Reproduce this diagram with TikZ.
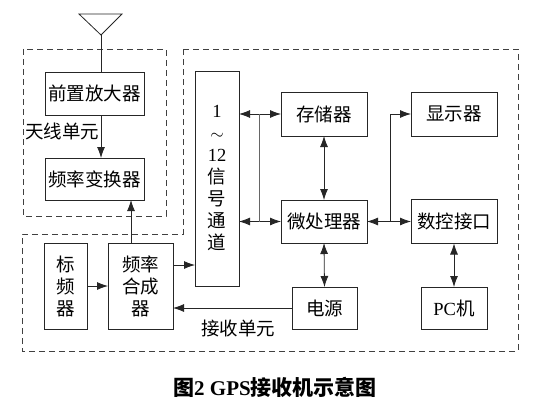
\documentclass[tikz,border=0pt]{standalone}
\usepackage{fontspec}
\setmainfont{Liberation Serif}
\newfontfamily\cjk{Noto Sans CJK SC}
\usetikzlibrary{arrows.meta}
\begin{document}
\begin{tikzpicture}[x=1pt,y=-1pt,
  every node/.style={inner sep=0pt,outer sep=0pt},
  blk/.style={draw=black!85,line width=0.8pt,font=\fontsize{18.5}{22}\selectfont\cjk,align=center},
  arr/.style={line width=0.8pt,draw=black!85,-{Latex[length=11pt,width=8pt]}},
  darr/.style={line width=0.8pt,draw=black!85,{Latex[length=11pt,width=8pt]}-{Latex[length=11pt,width=8pt]}},
  ln/.style={line width=0.8pt,draw=black!85},
  unit/.style={draw=black!75,line width=0.7pt,dash pattern=on 6pt off 4pt},
  lbl/.style={font=\fontsize{18.5}{22}\selectfont\cjk}]
\useasboundingbox (0,0) rectangle (556,401);
% units
\draw[unit] (23,49) rectangle (166,216);
\draw[unit] (183,49) -- (518,49) -- (518,351) -- (22,351) -- (22,234) -- (183,234) -- cycle;
% antenna
\coordinate (ant) at (101,35);
\draw[ln] (79,14) -- (122,14) -- (ant) -- cycle;
% blocks
\node[blk,minimum width=99pt,minimum height=43pt] (pre) at (94.5,93.5) {前置放大器};
\node[blk,minimum width=99pt,minimum height=42pt] (conv) at (94.5,179) {频率变换器};
\node[blk,minimum width=43pt,minimum height=86pt] (std) at (65.5,286) {标\\频\\器};
\node[blk,minimum width=65pt,minimum height=86pt] (syn) at (140.5,286) {频率\\合成\\器};
\node[blk,minimum width=44pt,minimum height=215pt] (chan) at (217,178.5) {{\rmfamily 1}\\$\sim$\\{\rmfamily 12}\\信\\号\\通\\道};
\node[blk,minimum width=86pt,minimum height=44pt] (mem) at (324,114) {存储器};
\node[blk,minimum width=86pt,minimum height=43pt] (cpu) at (324,221.5) {微处理器};
\node[blk,minimum width=65pt,minimum height=42pt] (pwr) at (324.5,308) {电源};
\node[blk,minimum width=86pt,minimum height=44pt] (disp) at (454,114) {显示器};
\node[blk,minimum width=86pt,minimum height=44pt] (dci) at (454,221.5) {数控接口};
\node[blk,minimum width=66pt,minimum height=42pt] (pc) at (454,308) {{\rmfamily PC}机};
% labels
\node[lbl] (lant) at (62,131) {天线单元};
\node[lbl] (lrcv) at (238,328) {接收单元};
\node[font=\fontsize{21}{24}\selectfont\bfseries] (cap) at (275,387) {{\cjk 图}2 GPS{\cjk 接收机示意图}};
% connectors
\draw[ln] (ant) -- (ant |- pre.north);
\draw[arr] (ant |- pre.south) -- (ant |- conv.north);
\draw[arr] ([xshift=-9.5pt]syn.north) -- ([xshift=-9.5pt]syn.north |- conv.south);
\draw[arr] (std.east) -- (syn.west);
\draw[arr] ([yshift=21pt]syn.east) -- ([yshift=21pt]syn.east -| chan.west);
\draw[arr] (pwr.west) -- (pwr.west -| syn.east);
\coordinate (j1) at (259,114);
\coordinate (j2) at (259,221.5);
\draw[darr] (chan.east |- mem.west) -- (mem.west);
\draw[darr] (chan.east |- cpu.west) -- (cpu.west);
\draw[line width=0.6pt,draw=black!60] (j1) -- (j2);
\draw[darr] (mem.south) -- (cpu.north);
\draw[darr] (cpu.south) -- (pwr.north);
\draw[darr] (cpu.east) -- (dci.west);
\coordinate (j3) at (390,221.5);
\draw[arr] (j3) |- (disp.west);
\draw[darr] (dci.south) -- (pc.north);
\end{tikzpicture}
\end{document}
